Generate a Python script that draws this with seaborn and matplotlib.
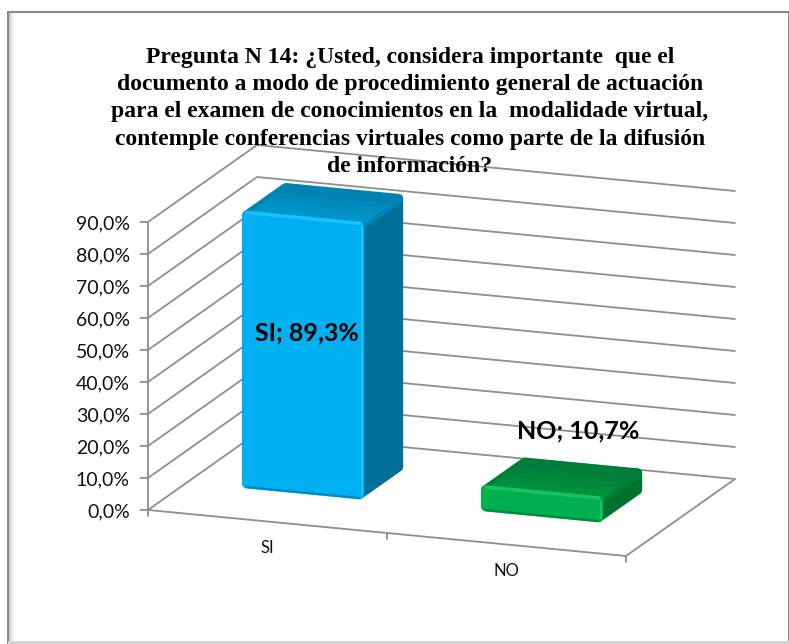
import numpy as np
import pandas as pd
import seaborn as sns
import matplotlib.pyplot as plt
from matplotlib.colors import to_rgb
from matplotlib.patches import Polygon, Rectangle
from matplotlib.ticker import FuncFormatter
from matplotlib.transforms import Affine2D, IdentityTransform

# data
categorias = ["SI", "NO"]
porcentajes = [89.3, 10.7]
ticks_y = [0, 10, 20, 30, 40, 50, 60, 70, 80, 90]
titulo = ("Pregunta N 14: ¿Usted, considera importante  que el\n"
          "documento a modo de procedimiento general de actuación\n"
          "para el examen de conocimientos en la  modalidade virtual,\n"
          "contemple conferencias virtuales como parte de la difusión\n"
          "de información?")

# colours per bar: front, top back, top front, side, highlight, lower edge
colores = {
    "SI": ["#00B0F0", "#0083B2", "#009AD2", "#006F99", "#1CC0F8", "#0088C0"],
    "NO": ["#00B050", "#007D39", "#00963F", "#00722F", "#1CC060", "#008A3C"],
}
GRIS = "#8E8E8E"
W, H = 789, 644

sns.set_theme(style="white")
plt.rcParams["font.family"] = ["Lato", "DejaVu Sans"]

fig = plt.figure(figsize=(W / 100, H / 100), dpi=100, facecolor="white")
ax = fig.add_axes([148 / W, (H - 510) / H, 478 / W, 288 / H])

df = pd.DataFrame({"respuesta": categorias, "porcentaje": porcentajes})
sns.barplot(data=df, x="respuesta", y="porcentaje", hue="respuesta",
            palette=[colores[c][0] for c in categorias], saturation=1,
            width=0.5, legend=False, ax=ax)

ax.set_xlim(-0.5, 1.5)
ax.set_ylim(0, 90)
ax.patch.set_visible(False)
ax.set_xlabel("")
ax.set_ylabel("")
ax.set_xticks([])
ax.set_yticks(ticks_y)
ax.yaxis.set_major_formatter(FuncFormatter(lambda v, _: f"{v:.1f}%".replace(".", ",")))
ax.tick_params(axis="y", left=True, length=6, width=1.3, color=GRIS, pad=7,
               labelsize=14, labelcolor="#111111")
for lado in ["top", "right", "bottom"]:
    ax.spines[lado].set_visible(False)
ax.spines["left"].set_color(GRIS)
ax.spines["left"].set_linewidth(1.3)


# oblique projection of the Excel 3D chart: x axis falls to the right, depth goes up-right
def oblicua(d):
    s = 23 / 239
    return ax.transData + Affine2D(np.array([[1, 0, 109 * d],
                                             [-s, 1, s * 148 + 77 * d],
                                             [0, 0, 1]]))


def proj(x, v, d):
    return oblicua(d).transform((x, v))


def poli(puntos, color, z):
    ax.add_patch(Polygon(puntos, closed=True, facecolor=color, edgecolor=color, lw=0.5,
                         transform=IdentityTransform(), clip_on=False, zorder=z))


def linea(puntos, color=GRIS, lw=1.3, z=1, **kw):
    p = np.array(puntos)
    ax.plot(p[:, 0], p[:, 1], color=color, lw=lw, transform=IdentityTransform(),
            clip_on=False, zorder=z, **kw)


# walls and floor
for v in ticks_y:
    linea([proj(-0.5, v, 0), proj(-0.5, v, 1), proj(1.5, v, 1)])
linea([proj(-0.5, 0, 0), proj(1.5, 0, 0), proj(1.5, 0, 1)])

# ticks and labels of the sheared category axis
for x in [-0.5, 0.5, 1.5]:
    px, py = proj(x, 0, 0)
    linea([(px, py), (px, py - 6)])
for x, c in enumerate(categorias):
    px, py = proj(x, 0, 0)
    ax.text(px, py - 26.5, c, transform=IdentityTransform(), ha="center", va="center",
            fontsize=12, color="#111111", clip_on=False)

# bars: seaborn's rectangle is the front face, depth faces are built from it
D0, D1 = 0.37, 0.76
CAIDA = 3.3    # the bars in the original stop a little under their value line
DX = -0.02
RADIO = 7      # thick round-joined edge gives the rounded corners
INS_X = 0.5 * RADIO * 0.72 / 239 * 1.39
INS_Y = 0.5 * RADIO * 0.72 / 3.2 * 1.39
INS_D = 0.5 * RADIO * 0.72 / 109 * 1.39

for patch in ax.patches:
    centro = patch.get_x() + patch.get_width() / 2
    cat = categorias[int(round(centro))]
    frente, top_a, top_b, lado_c, brillo, borde = colores[cat]
    x0 = patch.get_x() + DX + INS_X
    x1 = patch.get_x() + DX + patch.get_width() - INS_X
    y0 = INS_Y
    y1 = patch.get_height() - CAIDA - INS_Y
    d0 = D0
    d1 = D1 - INS_D

    patch.set_x(x0)
    patch.set_width(x1 - x0)
    patch.set_y(y0)
    patch.set_height(y1 - y0)
    patch.set_transform(oblicua(d0))
    patch.set_edgecolor(frente)
    patch.set_linewidth(RADIO)
    patch.set_joinstyle("round")
    patch.set_clip_on(False)
    patch.set_zorder(5)

    # side face with rounded outline
    lado = Polygon([proj(x1, y0, d0), proj(x1, y0, d1), proj(x1, y1, d1), proj(x1, y1, d0)],
                   closed=True, facecolor=lado_c, edgecolor=lado_c, lw=RADIO, joinstyle="round",
                   transform=IdentityTransform(), clip_on=False, zorder=3)
    ax.add_patch(lado)

    # top face, shaded back to front in strips
    contorno = Polygon([proj(x0, y1, d0), proj(x1, y1, d0), proj(x1, y1, d1), proj(x0, y1, d1)],
                       closed=True, facecolor=top_a, edgecolor=top_a, lw=RADIO, joinstyle="round",
                       transform=IdentityTransform(), clip_on=False, zorder=4)
    ax.add_patch(contorno)
    n = 6
    for i in range(n):
        f = i / (n - 1)
        col = (1 - f) * np.array(to_rgb(top_b)) + f * np.array(to_rgb(top_a))
        da = d0 + (d1 - d0) * i / n
        db = d0 + (d1 - d0) * (i + 1) / n
        poli([proj(x0, y1, da), proj(x1, y1, da), proj(x1, y1, db), proj(x0, y1, db)], col, 4.2)

    # bevel highlights and lower edge on the front
    linea([proj(x0, y1 + INS_Y * 0.8, d0), proj(x1, y1 + INS_Y * 0.8, d0)], brillo, 2.5, 6,
          solid_capstyle="round")
    linea([proj(x1 + INS_X * 0.8, y1, d0), proj(x1 + INS_X * 0.8, y0, d0)], brillo, 1.5, 6,
          solid_capstyle="round")
    linea([proj(x0, y0 - INS_Y, d0), proj(x1, y0 - INS_Y, d0)], borde, 1.5, 6,
          solid_capstyle="round")

# data labels
etiquetas = [f"{c}; {v:.1f}%".replace(".", ",") for c, v in zip(categorias, porcentajes)]
for texto, (px, py) in zip(etiquetas, [(307, 333), (578, 431)]):
    ax.text(px, H - py, texto, transform=IdentityTransform(), ha="center", va="center",
            fontsize=18, fontweight="bold", color="black", clip_on=False, zorder=8)

# title
fig.text(410 / W, 1 - 112 / H, titulo, ha="center", va="center", fontsize=17,
         fontweight="bold", family="Liberation Serif", color="black", linespacing=1.38, zorder=9)

# outer frame with the soft inner shadow
for i, g in enumerate(["#C8C8C8", "#D8D8D8", "#E4E4E4", "#EEEEEE", "#F5F5F5", "#FAFAFA"]):
    fig.add_artist(Rectangle(((9 + i) / W, 0), 1 / W, (H - 13) / H, color=g,
                             transform=fig.transFigure, lw=0))
fig.add_artist(Rectangle((8 / W, 0), (W - 8) / W, (H - 12) / H, fill=False, edgecolor="#8A8A8A",
                         lw=1.5, transform=fig.transFigure))
fig.add_artist(Rectangle((8 / W, 0), (W - 8) / W, 3 / H, color="#D4D4D4",
                         transform=fig.transFigure, lw=0))

fig.savefig("out.png", dpi=100)
